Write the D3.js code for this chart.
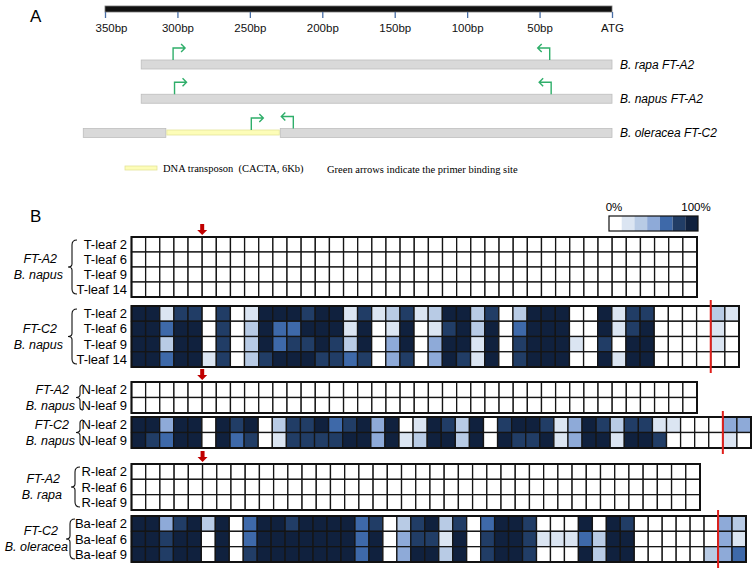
<!DOCTYPE html>
<html><head><meta charset="utf-8">
<script src="https://cdn.jsdelivr.net/npm/d3@7"></script>
<style>body{margin:0;background:#fff} svg{display:block}</style>
</head><body>
<svg id="c" width="754" height="569"></svg>
<script>
// ================= DATA =================
// Panel A
const axisTickBp = [350, 300, 250, 200, 150, 100, 50, 0];
const axisTickLabels = ["350bp", "300bp", "250bp", "200bp", "150bp", "100bp", "50bp", "ATG"];
const geneSpecies = ["B. rapa", "B. napus", "B. oleracea"];
const geneNames = ["FT-A2", "FT-A2", "FT-C2"];
const geneSegments = [[[325, 0]], [[325, 0]], [[365, 308], [229, 0]]];
const transposonSegments = [null, null, [308, 229]];
const primerForward = [303, 302, 249];
const primerReverse = [43, 42, 220];
const legendTransposon = "DNA transposon  (CACTA, 6Kb)";
const legendArrows = "Green arrows indicate the primer binding site";

// Panel B: methylation level classes 0 (0%) .. 6 (100%)
const levelClasses = [0, 1, 2, 3, 4, 5, 6];
const legendLabels = ["0%", "100%"];
const blockGenes = ["FT-A2", "FT-C2", "FT-A2", "FT-C2", "FT-A2", "FT-C2"];
const blockSpecies = ["B. napus", "B. napus", "B. napus", "B. napus", "B. rapa", "B. oleracea"];

const tLeafRows = ["T-leaf 2", "T-leaf 6", "T-leaf 9", "T-leaf 14"];
const nLeafRows = ["N-leaf 2", "N-leaf 9"];
const rLeafRows = ["R-leaf 2", "R-leaf 6", "R-leaf 9"];
const baLeafRows = ["Ba-leaf 2", "Ba-leaf 6", "Ba-leaf 9"];

const tLeafA2 = [
  [0,0,0,0,0,0,0,0,0,0,0,0,0,0,0,0,0,0,0,0,0,0,0,0,0,0,0,0,0,0,0,0,0,0,0,0,0,0,0,0],
  [0,0,0,0,0,0,0,0,0,0,0,0,0,0,0,0,0,0,0,0,0,0,0,0,0,0,0,0,0,0,0,0,0,0,0,0,0,0,0,0],
  [0,0,0,0,0,0,0,0,0,0,0,0,0,0,0,0,0,0,0,0,0,0,0,0,0,0,0,0,0,0,0,0,0,0,0,0,0,0,0,0],
  [0,0,0,0,0,0,0,0,0,0,0,0,0,0,0,0,0,0,0,0,0,0,0,0,0,0,0,0,0,0,0,0,0,0,0,0,0,0,0,0]
];
const tLeafC2 = [
  [6,6,1,5,5,0,5,0,1,6,6,6,5,6,6,1,5,1,2,5,1,2,6,6,2,5,0,2,6,6,6,0,0,6,1,5,5,0,0,0,0,2,1],
  [6,6,4,6,6,0,5,0,2,6,4,4,6,6,6,1,6,0,1,6,0,1,5,6,2,6,0,4,6,6,6,0,0,6,1,5,6,0,0,0,0,1,0],
  [6,6,2,6,6,0,5,0,2,6,4,5,5,6,5,2,6,0,3,6,0,3,6,6,1,6,0,5,6,6,6,1,0,5,0,6,6,0,0,0,0,1,0],
  [6,6,4,6,6,1,5,0,2,5,6,6,6,5,5,4,5,0,3,5,0,3,6,5,1,6,0,5,6,6,6,0,0,6,1,6,6,0,0,0,0,0,0]
];
const nLeafA2 = [
  [0,0,0,0,0,0,0,0,0,0,0,0,0,0,0,0,0,0,0,0,0,0,0,0,0,0,0,0,0,0,0,0,0,0,0,0,0,0,0,0],
  [0,0,0,0,0,0,0,0,0,0,0,0,0,0,0,0,0,0,0,0,0,0,0,0,0,0,0,0,0,0,0,0,0,0,0,0,0,0,0,0]
];
const nLeafC2 = [
  [6,6,3,6,6,0,6,5,6,0,2,5,5,6,4,5,6,3,6,0,1,6,5,2,6,0,5,6,6,5,1,3,6,5,2,5,5,1,1,0,0,0,3,3],
  [6,5,4,6,6,0,6,4,5,0,1,5,5,5,5,6,6,3,6,1,2,6,6,2,6,0,6,5,5,6,1,3,6,6,1,6,6,5,0,0,0,0,1,0]
];
const rLeafA2 = [
  [0,0,0,0,0,0,0,0,0,0,0,0,0,0,0,0,0,0,0,0,0,0,0,0,0,0,0,0,0,0,0,0,0,0,0,0,0,0,0,0],
  [0,0,0,0,0,0,0,0,0,0,0,0,0,0,0,0,0,0,0,0,0,0,0,0,0,0,0,0,0,0,0,0,0,0,0,0,0,0,0,0],
  [0,0,0,0,0,0,0,0,0,0,0,0,0,0,0,0,0,0,0,0,0,0,0,0,0,0,0,0,0,0,0,0,0,0,0,0,0,0,0,0]
];
const baLeafC2 = [
  [6,6,3,5,6,2,6,0,4,6,6,5,6,6,6,6,4,5,0,2,5,6,2,5,0,4,6,6,5,0,0,0,6,0,6,5,0,0,0,0,0,0,3,2],
  [6,6,5,6,6,0,6,0,4,6,6,6,6,6,6,6,4,6,0,3,5,5,1,6,0,5,6,6,5,1,1,1,4,2,6,6,0,0,0,0,0,0,3,1],
  [6,6,5,6,6,0,6,0,5,6,6,6,6,6,6,6,4,6,0,3,6,6,2,6,0,5,6,6,5,0,0,0,6,2,6,6,0,0,0,0,0,2,3,4]
];
const blockRowNames = [tLeafRows, tLeafRows, nLeafRows, nLeafRows, rLeafRows, baLeafRows];
const blockValues = [tLeafA2, tLeafC2, nLeafA2, nLeafC2, rLeafA2, baLeafC2];
const primerSiteCol = [5, null, 5, null, 5, null];   // red arrow: boundary after this many CpG columns
const insertionCol = [null, 41, null, 42, null, 42]; // red line: boundary after this many columns

// ================= LAYOUT / STYLE =================
const svg = d3.select("#c");
const palette = ["#ffffff", "#dbe5f2", "#b8cbe5", "#8eaad8", "#3e69a9", "#213d66", "#10213e"];
const color = d3.scaleOrdinal().domain(levelClasses).range(palette);
const sans = "'Liberation Sans', Arial, sans-serif";
const serif = "'Liberation Serif', 'Times New Roman', serif";
const green = "#2fae6a";

// ---------- Panel A ----------
svg.append("text").attr("x", 30).attr("y", 22).attr("font-family", sans).attr("font-size", 17).text("A");
const bp = d3.scaleLinear().domain([350, 0]).range([105, 612]);

svg.append("rect").attr("x", bp(350)).attr("y", 6).attr("width", bp(0) - bp(350)).attr("height", 6)
  .attr("fill", "#111").attr("stroke", "#777").attr("stroke-width", 0.8);
const axis = d3.axisBottom(bp).tickValues(axisTickBp).tickSize(6).tickFormat((d, i) => axisTickLabels[i]);
const ag = svg.append("g").attr("transform", "translate(0,12)").call(axis);
ag.select(".domain").remove();
ag.selectAll(".tick line").attr("stroke", "#4a6fa5").attr("stroke-width", 1.3);
ag.selectAll(".tick text").attr("font-family", sans).attr("font-size", 11.5).attr("fill", "#111").attr("dy", "0.95em")
  .attr("dx", (d, i) => i === 0 ? 6 : 0);

const geneY = d3.scalePoint().domain(geneSpecies).range([64.5, 133]);
const barH = 9;
geneSpecies.forEach((sp, i) => {
  const yc = geneY(sp);
  geneSegments[i].forEach(s => {
    svg.append("rect").attr("x", bp(s[0])).attr("y", yc - barH / 2).attr("width", bp(s[1]) - bp(s[0])).attr("height", barH)
      .attr("fill", "#d9d9d9").attr("stroke", "#bdbdbd").attr("stroke-width", 0.8);
  });
  const ts = transposonSegments[i];
  let fBase = yc - barH / 2, rBase = yc - barH / 2;
  if (ts) {
    svg.append("rect").attr("x", bp(ts[0]) + 1).attr("y", yc - 3).attr("width", bp(ts[1]) - bp(ts[0]) - 2).attr("height", 5)
      .attr("fill", "#fdfdb8").attr("stroke", "#e3e39a").attr("stroke-width", 0.8);
    fBase = yc - 3;
  }
  const fx = bp(primerForward[i]);
  svg.append("path").attr("d", `M${fx},${fBase} V${fBase - 12} H${fx + 12} M${fx + 8},${fBase - 16} L${fx + 12},${fBase - 12} L${fx + 8},${fBase - 8}`)
    .attr("fill", "none").attr("stroke", green).attr("stroke-width", 1.4);
  const rx = bp(primerReverse[i]);
  svg.append("path").attr("d", `M${rx},${rBase} V${rBase - 12} H${rx - 12} M${rx - 8},${rBase - 16} L${rx - 12},${rBase - 12} L${rx - 8},${rBase - 8}`)
    .attr("fill", "none").attr("stroke", green).attr("stroke-width", 1.4);
  svg.append("text").attr("x", 620).attr("y", yc + 4).attr("font-family", sans).attr("font-size", 12)
    .attr("font-style", "italic").text(sp + " " + geneNames[i]);
});
svg.append("rect").attr("x", 125).attr("y", 166).attr("width", 32).attr("height", 4)
  .attr("fill", "#fdfdb8").attr("stroke", "#e3e39a").attr("stroke-width", 0.8);
svg.append("text").attr("x", 163).attr("y", 172).attr("font-family", serif).attr("font-size", 10.5).attr("xml:space", "preserve").text(legendTransposon);
svg.append("text").attr("x", 327).attr("y", 173).attr("font-family", serif).attr("font-size", 10.5).text(legendArrows);

// ---------- Panel B ----------
svg.append("text").attr("x", 30).attr("y", 222).attr("font-family", sans).attr("font-size", 17).text("B");

const lx = d3.scaleBand().domain(levelClasses).range([609, 698]);
svg.selectAll(".leg").data(levelClasses).enter().append("rect")
  .attr("x", d => lx(d)).attr("y", 216).attr("width", lx.bandwidth()).attr("height", 15).attr("fill", d => color(d));
svg.append("rect").attr("x", 609).attr("y", 216).attr("width", 89).attr("height", 15).attr("fill", "none").attr("stroke", "#111").attr("stroke-width", 1.2);
svg.append("text").attr("x", 614).attr("y", 211).attr("text-anchor", "middle").attr("font-family", sans).attr("font-size", 11.5).text(legendLabels[0]);
svg.append("text").attr("x", 696).attr("y", 211).attr("text-anchor", "middle").attr("font-family", sans).attr("font-size", 11.5).text(legendLabels[1]);

const blockBox = [
  {top: 237, bottom: 297, right: 697, brace: 72, gEnd: 57, sEnd: 63},
  {top: 306, bottom: 367, right: 739, brace: 72, gEnd: 57, sEnd: 63},
  {top: 382, bottom: 413, right: 697, brace: 80, gEnd: 69, sEnd: 75},
  {top: 417, bottom: 448, right: 751, brace: 80, gEnd: 69, sEnd: 75},
  {top: 464, bottom: 510, right: 700, brace: 75, gEnd: 60, sEnd: 62},
  {top: 516, bottom: 562, right: 746, brace: 70, gEnd: 58, sEnd: 68}
];
const gridLeft = 131.5;

blockValues.forEach((vals, b) => {
  const box = blockBox[b];
  const ncol = vals[0].length;
  const x = d3.scaleBand().domain(d3.range(ncol)).range([gridLeft, box.right]);
  const y = d3.scaleBand().domain(blockRowNames[b]).range([box.top, box.bottom]);
  const g = svg.append("g");
  vals.forEach((row, r) => {
    g.selectAll(null).data(row).enter().append("rect")
      .attr("x", (d, c) => x(c)).attr("y", y(blockRowNames[b][r]))
      .attr("width", x.bandwidth()).attr("height", y.bandwidth())
      .attr("fill", d => color(d)).attr("stroke", "#151515").attr("stroke-width", 1.3);
  });
  g.append("rect").attr("x", gridLeft).attr("y", box.top).attr("width", box.right - gridLeft).attr("height", box.bottom - box.top)
    .attr("fill", "none").attr("stroke", "#111").attr("stroke-width", 2);
  blockRowNames[b].forEach(name => {
    svg.append("text").attr("x", 127).attr("y", y(name) + y.bandwidth() / 2 + 4.5).attr("text-anchor", "end")
      .attr("font-family", sans).attr("font-size", 13).text(name);
  });
  const nRows = blockRowNames[b].length;
  const bx = box.brace;
  const t = box.top + 3, bt = box.bottom - 3, mid = (box.top + box.bottom) / 2;
  const hook = nRows === 2 ? 3 : 5;
  svg.append("path").attr("d",
    `M${bx + hook},${t} Q${bx},${t} ${bx},${t + hook} L${bx},${mid - 3} Q${bx},${mid} ${bx - 4},${mid} Q${bx},${mid} ${bx},${mid + 3} L${bx},${bt - hook} Q${bx},${bt} ${bx + hook},${bt}`)
    .attr("fill", "none").attr("stroke", "#111").attr("stroke-width", 1.1);
  let l1, l2;
  if (nRows === 2) {
    l1 = y(blockRowNames[b][0]) + y.bandwidth() / 2 + 4.5;
    l2 = y(blockRowNames[b][1]) + y.bandwidth() / 2 + 4.5;
  } else {
    l1 = mid - 4; l2 = mid + 12;
  }
  svg.append("text").attr("x", box.gEnd).attr("y", l1).attr("text-anchor", "end").attr("font-family", sans)
    .attr("font-size", 12.5).attr("font-style", "italic").text(blockGenes[b]);
  svg.append("text").attr("x", box.sEnd).attr("y", l2).attr("text-anchor", "end").attr("font-family", sans)
    .attr("font-size", 12.5).attr("font-style", "italic").text(blockSpecies[b]);
  if (primerSiteCol[b] !== null) {
    const ax = x(primerSiteCol[b]);
    const tip = box.top - 2;
    svg.append("path").attr("d", `M${ax - 2},${tip - 11} H${ax + 2} V${tip - 5} H${ax + 5} L${ax},${tip} L${ax - 5},${tip - 5} H${ax - 2} Z`)
      .attr("fill", "#c00000");
  }
  if (insertionCol[b] !== null) {
    const rx = x(insertionCol[b]);
    svg.append("line").attr("x1", rx).attr("x2", rx).attr("y1", box.top - 6).attr("y2", box.bottom + 6)
      .attr("stroke", "#e0201c").attr("stroke-width", 2);
  }
});
</script>
</body></html>
